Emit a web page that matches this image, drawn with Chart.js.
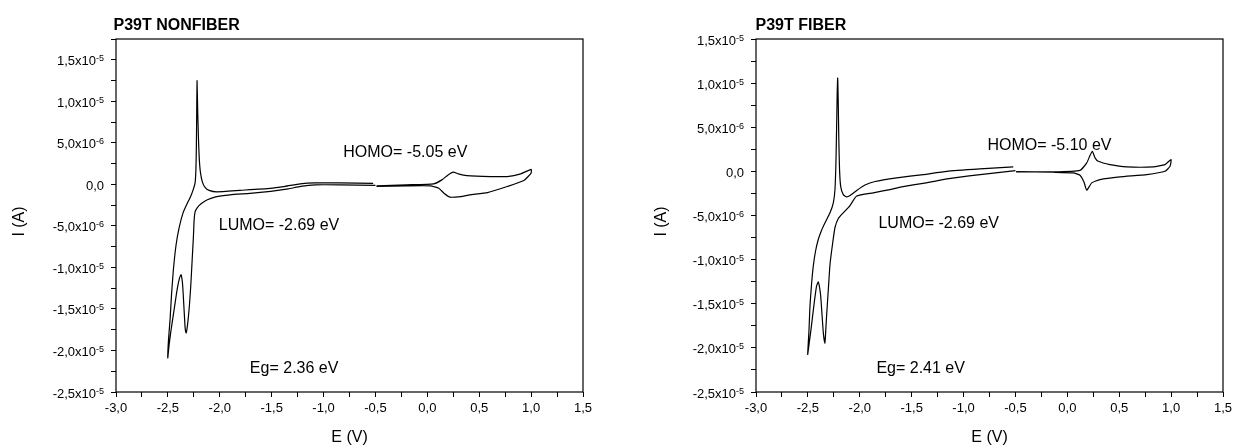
<!DOCTYPE html>
<html>
<head>
<meta charset="utf-8">
<title>P39T voltametría</title>
<script src="https://cdn.jsdelivr.net/npm/chart.js@4.4.1/dist/chart.umd.min.js"></script>
<style>
  html, body { margin: 0; padding: 0; background: #fff; }
  #wrap { position: relative; width: 1238px; height: 448px; }
  canvas { position: absolute; top: 0; }
  #cNonfiber { left: 0; }
  #cFiber { left: 619px; }
</style>
</head>
<body>
<div id="wrap">
  <canvas id="cNonfiber" width="619" height="448"></canvas>
  <canvas id="cFiber" width="619" height="448"></canvas>
</div>
<script>
// Etiquetas de los ejes (la corriente se guarda en µA)
var xTickValues = [-3, -2.5, -2, -1.5, -1, -0.5, 0, 0.5, 1, 1.5];
var xTickLabels = ["-3,0", "-2,5", "-2,0", "-1,5", "-1,0", "-0,5", "0,0", "0,5", "1,0", "1,5"];
var yTickValues = [-25, -20, -15, -10, -5, 0, 5, 10, 15];
var yTickLabels = ["-2,5x10^-5", "-2,0x10^-5", "-1,5x10^-5", "-1,0x10^-5", "-5,0x10^-6",
                   "0,0", "5,0x10^-6", "1,0x10^-5", "1,5x10^-5"];

// NONFIBER: barrido catódico (-0.5 -> -2.5 -> -0.5)
var nfCathE = [-0.50, -0.84, -1.08, -1.22, -1.34, -1.51, -1.71, -1.90, -2.04, -2.12,
               -2.18, -2.218, -2.238, -2.247, -2.254, -2.266, -2.279, -2.292, -2.305, -2.317,
               -2.324, -2.334, -2.344, -2.358, -2.373, -2.387, -2.411, -2.440, -2.469, -2.488,
               -2.501, -2.494, -2.479, -2.465, -2.447, -2.421, -2.392, -2.354, -2.315, -2.282,
               -2.257, -2.238, -2.230, -2.226, -2.223, -2.219, -2.213, -2.206, -2.198, -2.187,
               -2.168, -2.142, -2.103, -2.029, -1.804, -1.515, -1.370, -1.226, -1.081, -0.840, -0.522];
var nfCathI = [-0.12, -0.06, -0.06, -0.24, -0.54, -0.84, -1.08, -1.26, -1.50, -1.86,
               -2.34, -2.82, -3.31, -4.27, -6.27, -9.08, -12.08, -14.49, -16.29, -17.49,
               -17.89, -17.25, -15.09, -12.08, -10.88, -11.24, -12.68, -15.09, -17.49, -19.29,
               -20.89, -18.69, -16.29, -13.28, -10.28, -7.27, -5.23, -3.43, -2.34, -1.50,
               -0.66, 0.18, 1.74, 4.15, 7.75, 12.48, 8.95, 5.75, 3.19, 1.50,
               0.30, -0.36, -0.72, -0.90, -0.72, -0.48, -0.24, 0.06, 0.18, 0.18, 0.12];
// NONFIBER: barrido anódico (-0.5 -> 1.0 -> -0.5)
var nfAnE = [-0.49, -0.20, 0.06, 0.14, 0.20, 0.25, 0.30, 0.38, 0.61, 0.77, 0.90, 1.00,
             1.00, 0.93, 0.77, 0.58, 0.41, 0.32, 0.22, 0.16, 0.11, 0.03, -0.20, -0.49];
var nfAnI = [-0.18, -0.06, 0.06, 0.54, 1.14, 1.47, 1.26, 1.06, 0.94, 0.94, 1.26, 1.80,
             1.35, 0.46, -0.26, -0.99, -1.26, -1.47, -1.54, -1.06, -0.46, -0.18, -0.18, -0.24];

// FIBER: barrido catódico
var fCathE = [-0.50, -0.84, -1.16, -1.36, -1.61, -1.71, -1.87, -2.03, -2.094, -2.159,
              -2.207, -2.239, -2.263, -2.287, -2.303, -2.319, -2.330, -2.335, -2.350, -2.364,
              -2.378, -2.400, -2.417, -2.441, -2.470, -2.489, -2.502, -2.489, -2.480, -2.465,
              -2.448, -2.427, -2.400, -2.369, -2.335, -2.287, -2.255, -2.239, -2.229, -2.222,
              -2.218, -2.213, -2.208, -2.202, -2.195, -2.184, -2.159, -2.126, -2.094, -2.030,
              -1.950, -1.853, -1.644, -1.388, -1.162, -0.842, -0.521];
var fCathI = [0.09, -0.36, -0.85, -1.30, -1.78, -2.06, -2.43, -2.80, -3.87, -4.70,
              -5.34, -6.36, -8.29, -10.55, -13.38, -16.21, -18.47, -19.49, -18.47, -16.21,
              -13.95, -12.53, -13.04, -15.08, -17.91, -19.61, -20.74, -17.91, -15.27, -12.81,
              -10.74, -9.08, -7.72, -6.70, -5.83, -4.70, -3.57, -2.06, 1.34, 5.86,
              8.69, 10.58, 8.13, 3.60, 0.20, -1.69, -2.63, -2.89, -2.74, -2.17,
              -1.55, -1.15, -0.74, -0.36, 0.01, 0.28, 0.51];
// FIBER: barrido anódico
var fAnE = [-0.495, -0.135, 0.122, 0.187, 0.218, 0.241, 0.267, 0.298, 0.411, 0.572,
            0.828, 0.941, 1.00, 0.99, 0.941, 0.765, 0.507, 0.315, 0.235, 0.187,
            0.161, 0.122, 0.057, -0.135, -0.49];
var fAnI = [-0.06, -0.06, 0.12, 0.96, 1.79, 2.28, 1.53, 1.14, 0.77, 0.51,
            0.51, 0.77, 1.34, 0.58, 0.01, -0.36, -0.62, -0.93, -1.30, -2.14,
            -1.23, -0.44, -0.17, -0.10, -0.02];

var FONT = "'Liberation Sans', Arial, sans-serif";
Chart.defaults.font.family = FONT;
Chart.defaults.color = "#000";

function puntos(eArr, iArr) {
    return eArr.map(function (e, k) { return { x: e, y: iArr[k] }; });
}

// Marco, etiquetas del eje Y con exponente, títulos y anotaciones
var decorPlugin = {
    id: "cvDecor",
    afterDraw: function (chart, args, opts) {
        var ctx = chart.ctx, a = chart.chartArea;
        var xs = chart.scales.x, ys = chart.scales.y;
        ctx.save();
        ctx.strokeStyle = "#000";
        ctx.lineWidth = 1.2;
        ctx.strokeRect(a.left, a.top, a.right - a.left, a.bottom - a.top);

        ctx.fillStyle = "#000";
        ctx.textAlign = "left";
        ctx.textBaseline = "alphabetic";
        yTickValues.forEach(function (v, k) {
            var py = ys.getPixelForValue(v);
            var partes = yTickLabels[k].split("^");
            ctx.font = "9px " + FONT;
            var wExp = partes[1] ? ctx.measureText(partes[1]).width : 0;
            ctx.font = "13px " + FONT;
            var wMan = ctx.measureText(partes[0]).width;
            var x0 = a.left - 12 - wExp - wMan;
            ctx.fillText(partes[0], x0, py + 5.5);
            if (partes[1]) {
                ctx.font = "9px " + FONT;
                ctx.fillText(partes[1], x0 + wMan, py + 1.5);
            }
        });

        ctx.font = "bold 16px " + FONT;
        ctx.fillText(opts.title, a.left + opts.titleDx, 30);

        ctx.font = "16px " + FONT;
        opts.notes.forEach(function (n) {
            ctx.fillText(n.text, xs.getPixelForValue(n.e), ys.getPixelForValue(n.i));
        });

        // título del eje Y, algo por debajo del centro como en el original
        ctx.translate(opts.yTitleX, (a.top + a.bottom) / 2 + 6);
        ctx.rotate(-Math.PI / 2);
        ctx.textAlign = "center";
        ctx.textBaseline = "middle";
        ctx.fillText("I (A)", 0, 0);
        ctx.restore();
    }
};

function crearGrafico(id, cfg) {
    var ejeGrid = { drawOnChartArea: false, drawTicks: true, tickLength: 5, tickColor: "#000", tickWidth: 1 };
    return new Chart(document.getElementById(id), {
        type: "scatter",
        data: {
            datasets: [
                { data: puntos(cfg.cathE, cfg.cathI) },
                { data: puntos(cfg.anE, cfg.anI) }
            ].map(function (d) {
                d.showLine = true;
                d.borderColor = "#000";
                d.borderWidth = 1.2;
                d.pointRadius = 0;
                d.tension = 0.15;
                d.fill = false;
                return d;
            })
        },
        options: {
            responsive: false,
            animation: false,
            devicePixelRatio: 1,
            layout: { padding: { top: 39, right: cfg.padRight, left: 0, bottom: 0 } },
            plugins: {
                legend: { display: false },
                tooltip: { enabled: false },
                cvDecor: { title: cfg.title, titleDx: cfg.titleDx, notes: cfg.notes, yTitleX: cfg.yTitleX }
            },
            scales: {
                x: {
                    type: "linear", min: -3, max: 1.5,
                    afterFit: function (s) { s.height = 56; },
                    ticks: {
                        stepSize: 0.25, autoSkip: false, maxRotation: 0, padding: 4,
                        font: { size: 13 },
                        callback: function (value) {
                            var k = xTickValues.findIndex(function (v) { return Math.abs(v - value) < 1e-6; });
                            return k >= 0 ? xTickLabels[k] : "";
                        }
                    },
                    grid: ejeGrid,
                    border: { display: false },
                    title: { display: true, text: "E (V)", font: { size: 16 }, padding: { top: 0, bottom: 1 } }
                },
                y: {
                    type: "linear", min: -25, max: cfg.yMax,
                    afterFit: function (s) { s.width = cfg.yWidth; },
                    ticks: { stepSize: 2.5, autoSkip: false, callback: function () { return ""; } },
                    grid: ejeGrid,
                    border: { display: false }
                }
            }
        },
        plugins: [decorPlugin]
    });
}

crearGrafico("cNonfiber", {
    title: "P39T NONFIBER", titleDx: -2.5,
    cathE: nfCathE, cathI: nfCathI, anE: nfAnE, anI: nfAnI,
    yMax: 17.5, yWidth: 116, padRight: 36, yTitleX: 20,
    notes: [
        { text: "HOMO= -5.05 eV", e: -0.81, i: 3.34 },
        { text: "LUMO= -2.69 eV", e: -2.01, i: -5.47 },
        { text: "Eg= 2.36 eV", e: -1.71, i: -22.70 }
    ]
});

crearGrafico("cFiber", {
    title: "P39T FIBER", titleDx: -0.5,
    cathE: fCathE, cathI: fCathI, anE: fAnE, anI: fAnI,
    yMax: 15, yWidth: 137, padRight: 15, yTitleX: 43,
    notes: [
        { text: "HOMO= -5.10 eV", e: -0.77, i: 2.47 },
        { text: "LUMO= -2.69 eV", e: -1.82, i: -6.39 },
        { text: "Eg= 2.41 eV", e: -1.84, i: -22.81 }
    ]
});
</script>
</body>
</html>
